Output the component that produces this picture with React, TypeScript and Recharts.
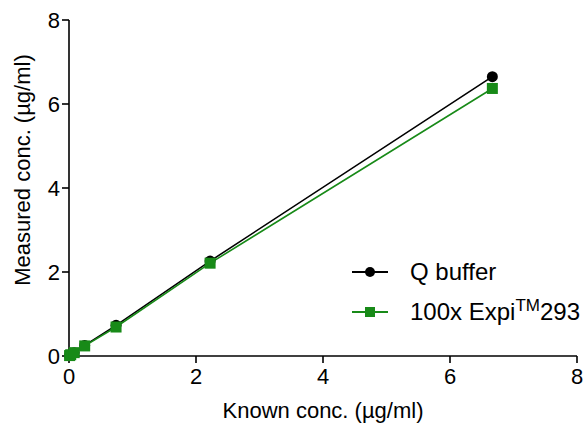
import React from "react";
import { ComposedChart, Line, XAxis, YAxis } from "recharts";

const knownConc = [0.009, 0.027, 0.082, 0.247, 0.741, 2.222, 6.667];
const qBuffer = [0.01, 0.03, 0.08, 0.25, 0.73, 2.26, 6.65];
const expi293 = [0.01, 0.03, 0.08, 0.24, 0.69, 2.21, 6.37];
const xTicks = [0, 2, 4, 6, 8];
const yTicks = [0, 2, 4, 6, 8];

const data = knownConc.map((k, i) => ({ known: k, q: qBuffer[i], expi: expi293[i] }));

const GREEN = "#188a18";
const FONT = "Liberation Sans, Arial, sans-serif";
const FS = 22;

const CircleDot = (props: any) => {
  const { cx, cy } = props;
  if (cx == null || cy == null) return null;
  return <circle cx={cx} cy={cy} r={5.5} fill="#000" />;
};
const SquareDot = (props: any) => {
  const { cx, cy } = props;
  if (cx == null || cy == null) return null;
  return <rect x={cx - 5.5} y={cy - 5.5} width={11} height={11} fill={GREEN} />;
};

const YLabel = (props: any) => {
  const vb = props.viewBox || {};
  const cy = (vb.y ?? 20) + (vb.height ?? 336) / 2 - 18;
  return (
    <text
      x={0}
      y={0}
      transform={`translate(22, ${cy}) rotate(-90)`}
      textAnchor="middle"
      dominantBaseline="central"
      fill="#000"
      fontSize={FS}
      fontFamily={FONT}
    >
      Measured conc. (µg/ml)
    </text>
  );
};

const LegendBox = () => (
  <div
    style={{
      position: "absolute",
      left: 352,
      top: 252,
      fontFamily: FONT,
      fontSize: 24,
      color: "#000",
      lineHeight: 1,
    }}
  >
    <div style={{ display: "flex", alignItems: "center", height: 40 }}>
      <svg width={38} height={14} style={{ marginRight: 20 }}>
        <line x1={0} y1={7} x2={36} y2={7} stroke="#000" strokeWidth={1.8} />
        <circle cx={18} cy={7} r={5} fill="#000" />
      </svg>
      <span>Q buffer</span>
    </div>
    <div style={{ display: "flex", alignItems: "center", height: 40 }}>
      <svg width={38} height={14} style={{ marginRight: 20 }}>
        <line x1={0} y1={7} x2={36} y2={7} stroke={GREEN} strokeWidth={1.8} />
        <rect x={13} y={2} width={10} height={10} fill={GREEN} />
      </svg>
      <span>
        100x Expi
        <span style={{ fontSize: 17, position: "relative", top: -9 }}>TM</span>
        293
      </span>
    </div>
  </div>
);

export default function App() {
  return (
    <div style={{ position: "absolute", left: 0, top: 0, width: 584, height: 434, background: "#fff" }}>
      <ComposedChart
        width={584}
        height={434}
        data={data}
        margin={{ top: 20, right: 7, bottom: 0, left: 0 }}
      >
        <XAxis
          dataKey="known"
          type="number"
          domain={[0, 8]}
          ticks={xTicks}
          axisLine={{ stroke: "#000", strokeWidth: 1.6 }}
          tickLine={{ stroke: "#000", strokeWidth: 1.6 }}
          tickSize={7}
          tick={{ fill: "#000", fontSize: FS, fontFamily: FONT, dy: 3 }}
          height={78}
          label={{
            value: "Known conc. (µg/ml)",
            position: "insideBottom",
            offset: 16,
            fill: "#000",
            fontSize: FS,
            fontFamily: FONT,
          }}
        />
        <YAxis
          type="number"
          domain={[0, 8]}
          ticks={yTicks}
          axisLine={{ stroke: "#000", strokeWidth: 1.6 }}
          tickLine={{ stroke: "#000", strokeWidth: 1.6 }}
          tickSize={7}
          tick={{ fill: "#000", fontSize: FS, fontFamily: FONT }}
          width={69}
          label={<YLabel />}
        />
        <Line
          dataKey="q"
          stroke="#000"
          strokeWidth={1.6}
          dot={<CircleDot />}
          activeDot={false}
          isAnimationActive={false}
          legendType="none"
        />
        <Line
          dataKey="expi"
          stroke={GREEN}
          strokeWidth={1.6}
          dot={<SquareDot />}
          activeDot={false}
          isAnimationActive={false}
          legendType="none"
        />
      </ComposedChart>
      <LegendBox />
    </div>
  );
}
